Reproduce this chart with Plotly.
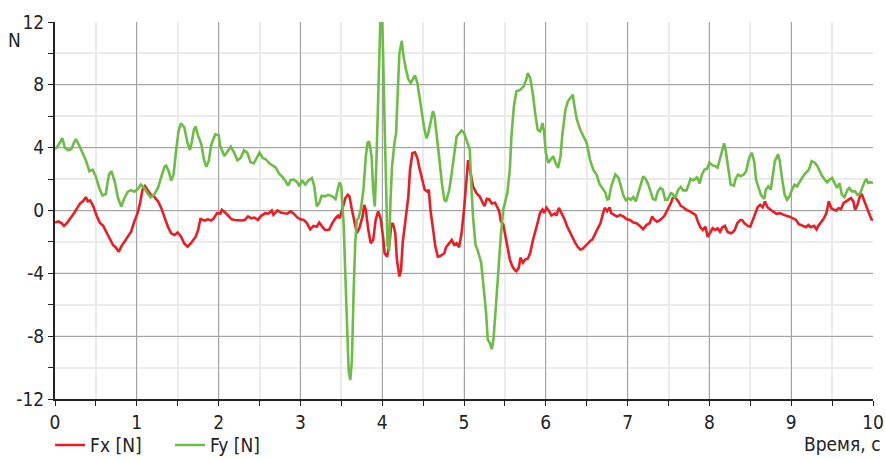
import plotly.graph_objects as go

# ---- data ----
t_fx = [0, 0.04, 0.08, 0.11, 0.15, 0.19, 0.23, 0.27, 0.31, 0.34, 0.38, 0.4, 0.43, 0.47, 0.51, 0.55, 0.59, 0.63, 0.67, 0.71,
        0.75, 0.78, 0.81, 0.85, 0.89, 0.93, 0.97, 1.01, 1.04, 1.07, 1.1, 1.13, 1.17, 1.21, 1.26, 1.3, 1.34, 1.38, 1.42, 1.46,
        1.5, 1.54, 1.58, 1.62, 1.66, 1.7, 1.72, 1.75, 1.78, 1.8, 1.83, 1.87, 1.91, 1.94, 1.98, 2.02, 2.04, 2.08, 2.12, 2.16,
        2.2, 2.24, 2.28, 2.32, 2.36, 2.4, 2.44, 2.48, 2.52, 2.57, 2.61, 2.65, 2.67, 2.72, 2.76, 2.8, 2.84, 2.88, 2.92, 2.96,
        3.0, 3.04, 3.08, 3.12, 3.16, 3.2, 3.23, 3.26, 3.3, 3.35, 3.39, 3.43, 3.46, 3.48, 3.51, 3.55, 3.58, 3.6, 3.63, 3.66,
        3.69, 3.72, 3.76, 3.78, 3.8, 3.83, 3.86, 3.89, 3.92, 3.95, 3.98, 4.01, 4.03, 4.06, 4.09, 4.11, 4.13, 4.16, 4.18, 4.21,
        4.23, 4.25, 4.29, 4.32, 4.34, 4.37, 4.4, 4.43, 4.46, 4.49, 4.52, 4.55, 4.57, 4.59, 4.62, 4.65, 4.68, 4.71, 4.76, 4.78,
        4.82, 4.85, 4.88, 4.91, 4.94, 4.97, 5.0, 5.03, 5.05, 5.08, 5.11, 5.15, 5.19, 5.23, 5.25, 5.28, 5.31, 5.34, 5.38, 5.43,
        5.45, 5.48, 5.51, 5.53, 5.56, 5.59, 5.62, 5.64, 5.67, 5.69, 5.72, 5.75, 5.78, 5.81, 5.84, 5.87, 5.9, 5.93, 5.96, 5.98,
        6.01, 6.04, 6.07, 6.11, 6.13, 6.16, 6.2, 6.23, 6.26, 6.3, 6.33, 6.36, 6.39, 6.42, 6.45, 6.48, 6.51, 6.54, 6.57, 6.6,
        6.64, 6.67, 6.69, 6.72, 6.75, 6.78, 6.8, 6.83, 6.87, 6.91, 6.95, 6.99, 7.03, 7.07, 7.11, 7.15, 7.19, 7.23, 7.27, 7.3,
        7.33, 7.36, 7.4, 7.45, 7.49, 7.53, 7.55, 7.58, 7.62, 7.65, 7.68, 7.72, 7.76, 7.8, 7.83, 7.86, 7.89, 7.92, 7.95, 7.98,
        8.01, 8.04, 8.07, 8.1, 8.13, 8.16, 8.19, 8.22, 8.26, 8.28, 8.31, 8.34, 8.38, 8.4, 8.43, 8.47, 8.5, 8.53, 8.56, 8.59,
        8.62, 8.65, 8.68, 8.71, 8.75, 8.78, 8.82, 8.86, 8.9, 8.94, 8.98, 9.02, 9.06, 9.09, 9.12, 9.16, 9.18, 9.21, 9.24, 9.28,
        9.31, 9.33, 9.37, 9.4, 9.43, 9.46, 9.49, 9.52, 9.55, 9.58, 9.61, 9.64, 9.67, 9.7, 9.73, 9.76, 9.78, 9.81, 9.84, 9.86,
        9.89, 9.92, 9.95, 9.98, 10.0]
fx = [-0.77, -0.7, -0.8, -0.98, -0.77, -0.5, -0.2, 0.15, 0.47, 0.58, 0.85, 0.58, 0.64, 0.25, -0.35, -0.8, -0.98, -1.4, -1.85, -2.2,
      -2.4, -2.63, -2.3, -2.0, -1.7, -1.35, -0.7, -0.17, 0.47, 1.33, 1.55, 1.33, 1.0, 0.9, 0.58, 0.15, -0.5, -1.03, -1.45, -1.56,
      -1.4, -1.65, -2.1, -2.3, -2.1, -1.8, -1.67, -1.24, -0.5, -0.6, -0.64, -0.56, -0.64, -0.5, -0.17, -0.2, 0.04, -0.13, -0.38, -0.56,
      -0.6, -0.64, -0.64, -0.6, -0.38, -0.5, -0.45, -0.6, -0.34, -0.17, -0.2, 0.0, -0.28, 0.0, -0.13, -0.17, -0.2, -0.06, -0.2, -0.43,
      -0.56, -0.6, -0.8, -1.2, -0.98, -1.03, -0.77, -0.98, -1.24, -1.23, -0.8, -0.49, -0.34, -0.49, 0.04, 0.79, 1.0, 0.9, 0.04, -0.8,
      -1.45, -1.13, -0.38, 0.36, 0.04, -1.23, -2.08, -1.87, -0.6, -0.06, -0.49, -1.66, -2.72, -2.94, -2.08, -0.91, -0.8, -1.45, -3.15, -4.2,
      -3.8, -2.08, -0.38, 0.9, 2.6, 3.66, 3.7, 3.34, 2.6, 1.96, 1.32, 1.21, 1.32, 0.04, -1.23, -2.3, -2.94, -2.9, -2.72, -2.34,
      -2.08, -1.87, -2.19, -2.08, -2.34, -1.45, 0.04, 2.17, 3.2, 2.4, 1.55, 1.12, 0.91, 0.49, 0.28, 0.74, 0.7, 0.44, 0.49, -0.04,
      -0.68, -0.89, -1.63, -2.27, -3.11, -3.54, -3.79, -3.86, -3.64, -3.0, -3.33, -3.11, -3.07, -2.69, -1.95, -1.42, -0.78, -0.15, 0.06, -0.15,
      0.17, -0.04, -0.32, -0.19, -0.32, 0.17, -0.25, -0.57, -1.0, -1.42, -1.84, -2.06, -2.31, -2.48, -2.44, -2.27, -2.16, -1.95, -1.84, -1.53,
      -1.1, -0.78, -0.36, 0.17, -0.04, 0.2, -0.17, -0.28, -0.39, -0.28, -0.39, -0.56, -0.6, -0.77, -0.81, -0.98, -1.2, -0.92, -0.81, -0.39,
      -0.6, -0.71, -0.6, -0.34, 0.04, 0.47, 0.79, 0.86, 0.58, 0.3, 0.21, 0.04, -0.06, -0.17, -0.28, -0.71, -1.07, -1.24, -1.03, -1.67,
      -1.35, -1.13, -1.24, -1.13, -1.35, -1.07, -0.98, -1.35, -1.45, -1.41, -1.24, -0.81, -0.6, -0.6, -0.81, -0.98, -1.03, -0.6, -0.13, 0.21,
      0.36, 0.21, 0.58, 0.21, 0.04, -0.06, -0.21, -0.17, -0.28, -0.34, -0.39, -0.49, -0.6, -0.86, -0.92, -0.98, -1.07, -0.92, -1.07, -0.98,
      -1.2, -0.98, -0.71, -0.49, -0.17, 0.58, 0.15, 0.04, 0.0, 0.15, 0.09, 0.47, 0.58, 0.68, 0.79, 0.58, 0.04, 0.36, 0.9, 1.07,
      0.68, 0.26, -0.13, -0.56, -0.6]

t_fy = [0, 0.04, 0.09, 0.12, 0.16, 0.2, 0.23, 0.255, 0.3, 0.34, 0.38, 0.42, 0.46, 0.5, 0.54, 0.58, 0.62, 0.66, 0.69, 0.73,
        0.77, 0.81, 0.85, 0.89, 0.93, 0.97, 1.01, 1.05, 1.09, 1.13, 1.17, 1.21, 1.26, 1.3, 1.34, 1.36, 1.39, 1.42, 1.45, 1.48,
        1.51, 1.54, 1.58, 1.62, 1.65, 1.67, 1.7, 1.72, 1.75, 1.79, 1.82, 1.85, 1.88, 1.91, 1.96, 2.0, 2.02, 2.07, 2.11, 2.15,
        2.19, 2.23, 2.27, 2.31, 2.35, 2.39, 2.43, 2.47, 2.5, 2.54, 2.58, 2.62, 2.66, 2.7, 2.74, 2.78, 2.82, 2.85, 2.88, 2.92,
        2.96, 2.99, 3.02, 3.06, 3.1, 3.14, 3.17, 3.2, 3.23, 3.26, 3.3, 3.34, 3.39, 3.43, 3.46, 3.48, 3.5, 3.53, 3.55, 3.57,
        3.59, 3.61, 3.63, 3.65, 3.67, 3.69, 3.71, 3.74, 3.77, 3.8, 3.82, 3.84, 3.87, 3.89, 3.91, 3.93, 3.95, 3.97, 3.98, 4.0,
        4.01, 4.03, 4.05, 4.065, 4.075, 4.085, 4.1, 4.12, 4.15, 4.17, 4.19, 4.21, 4.24, 4.26, 4.29, 4.32, 4.35, 4.37, 4.4, 4.43,
        4.47, 4.51, 4.54, 4.56, 4.59, 4.62, 4.64, 4.67, 4.7, 4.73, 4.76, 4.78, 4.82, 4.85, 4.88, 4.91, 4.94, 4.97, 5.0, 5.03,
        5.05, 5.07, 5.09, 5.11, 5.14, 5.17, 5.21, 5.24, 5.27, 5.29, 5.32, 5.34, 5.36, 5.39, 5.42, 5.45, 5.48, 5.51, 5.53, 5.56,
        5.58, 5.61, 5.64, 5.69, 5.73, 5.76, 5.78, 5.81, 5.84, 5.87, 5.9, 5.93, 5.96, 5.98, 6.0, 6.03, 6.06, 6.09, 6.12, 6.15,
        6.18, 6.2, 6.24, 6.27, 6.3, 6.33, 6.35, 6.38, 6.42, 6.46, 6.5, 6.54, 6.58, 6.62, 6.66, 6.69, 6.73, 6.75, 6.77, 6.8,
        6.83, 6.85, 6.89, 6.92, 6.95, 6.98, 7.01, 7.04, 7.07, 7.1, 7.13, 7.16, 7.19, 7.22, 7.25, 7.28, 7.31, 7.34, 7.37, 7.4,
        7.43, 7.46, 7.49, 7.53, 7.55, 7.58, 7.62, 7.65, 7.68, 7.72, 7.74, 7.77, 7.8, 7.83, 7.85, 7.88, 7.91, 7.94, 7.97, 8.0,
        8.04, 8.07, 8.1, 8.13, 8.16, 8.18, 8.2, 8.23, 8.26, 8.3, 8.32, 8.35, 8.38, 8.42, 8.45, 8.47, 8.49, 8.52, 8.55, 8.57,
        8.6, 8.63, 8.67, 8.69, 8.72, 8.75, 8.78, 8.8, 8.84, 8.86, 8.89, 8.92, 8.95, 8.98, 9.01, 9.04, 9.07, 9.1, 9.13, 9.16,
        9.2, 9.22, 9.25, 9.29, 9.32, 9.35, 9.38, 9.41, 9.44, 9.47, 9.5, 9.53, 9.56, 9.59, 9.62, 9.65, 9.69, 9.71, 9.74, 9.78,
        9.81, 9.84, 9.87, 9.9, 9.92, 9.94, 9.97, 10.0]
fy = [3.9, 4.15, 4.6, 4.0, 3.85, 3.9, 4.3, 4.55, 4.1, 3.6, 3.15, 2.5, 2.6, 2.15, 1.45, 0.95, 1.05, 2.3, 2.5, 1.85,
      0.8, 0.25, 0.8, 1.2, 1.3, 1.2, 1.35, 1.65, 1.45, 1.1, 0.85, 1.0, 1.45, 2.15, 2.8, 2.85, 2.5, 1.9, 2.3, 3.8,
      5.05, 5.55, 5.3, 4.3, 3.85, 4.3, 5.18, 5.35, 4.75, 4.2, 3.25, 2.78, 3.15, 4.2, 4.85, 4.8, 4.1, 3.47, 3.8, 4.06,
      3.68, 3.2, 3.35, 3.83, 3.68, 3.08, 3.0, 3.35, 3.68, 3.35, 3.25, 3.0, 2.87, 2.72, 2.35, 2.14, 1.86, 1.58, 1.93, 1.97,
      1.8, 1.54, 1.93, 1.65, 1.93, 2.07, 1.54, 0.26, 0.47, 0.94, 0.9, 1.0, 0.9, 0.72, 1.43, 1.79, 1.53, -1.02, -4.2, -7.4,
      -10.2, -10.8, -9.5, -5.3, -2.1, -0.6, -0.5, 0.15, 1.3, 3.45, 4.3, 4.4, 3.45, 1.3, 0.25, 3.2, 7.5, 11.5, 12.6, 12.5,
      9.6, 5.36, 1.1, -2.3, -1.3, -2.6, 0.47, 2.8, 4.3, 4.94, 7.5, 10.0, 10.8, 9.83, 9.0, 8.34, 8.13, 8.34, 8.6, 8.13,
      6.64, 5.36, 4.6, 4.83, 5.57, 6.32, 6.0, 4.72, 3.23, 1.74, 0.68, 0.57, 1.32, 2.38, 3.66, 4.72, 4.89, 5.1, 4.94, 4.51,
      4.3, 3.9, 1.55, -0.36, -2.16, -2.58, -3.33, -4.8, -6.5, -8.2, -8.5, -8.83, -8.2, -6.08, -3.75, -1.63, 0.06, 0.8, 1.12, 2.6,
      4.72, 6.63, 7.58, 7.69, 7.9, 8.33, 8.75, 8.43, 7.48, 6.2, 5.15, 5.04, 5.57, 4.94, 3.67, 3.03, 3.24, 3.45, 3.03, 2.71,
      3.45, 4.72, 6.42, 6.95, 7.16, 7.37, 6.63, 5.78, 5.15, 4.72, 4.3, 3.24, 2.6, 2.29, 1.65, 1.44, 1.12, 0.7, 0.73, 1.54,
      2.01, 2.29, 2.07, 1.54, 0.94, 0.64, 0.79, 0.68, 0.86, 0.58, 1.07, 1.65, 2.18, 2.01, 1.71, 1.22, 0.73, 0.68, 1.22, 1.43,
      1.33, 0.68, 0.68, 1.11, 1.07, 0.79, 1.33, 1.5, 1.28, 1.28, 1.54, 2.01, 1.93, 2.01, 2.14, 1.71, 2.29, 2.61, 2.65, 3.04,
      2.87, 2.82, 2.72, 3.36, 4.0, 4.28, 3.79, 2.72, 1.65, 1.58, 2.01, 2.29, 2.18, 2.29, 2.5, 3.0, 3.4, 3.68, 3.04, 1.97,
      1.54, 1.0, 0.73, 1.33, 1.54, 1.33, 2.4, 3.14, 3.57, 3.14, 1.97, 1.0, 0.68, 0.9, 1.33, 1.65, 1.54, 1.8, 2.07, 2.29,
      2.5, 2.65, 3.14, 3.04, 2.82, 2.5, 2.18, 1.97, 1.8, 1.97, 2.07, 1.75, 1.43, 1.75, 1.0, 0.86, 1.33, 1.43, 1.22, 1.22,
      1.0, 1.07, 1.54, 1.86, 2.01, 1.75, 1.8, 1.75]

series_names = ["Fx [N]", "Fy [N]"]
x_title = "Время, с"
y_title = "N"
x_ticks = [0, 1, 2, 3, 4, 5, 6, 7, 8, 9, 10]
x_ticklabels = ["0", "1", "2", "3", "4", "5", "6", "7", "8", "9", "10"]
y_ticks = [-12, -8, -4, 0, 4, 8, 12]
y_ticklabels = ["-12", "-8", "-4", "0", "4", "8", "12"]

FONT = "DejaVu Sans Condensed, Liberation Sans Narrow, sans-serif"
FS = 19
RED = "#ec1c24"
GREEN = "#6cbd45"
MAJOR = "#a3a3a3"
MINOR = "#ebebeb"
AXIS = "#222222"
TXT = "#222222"

fig = go.Figure()
fig.add_trace(go.Scatter(x=t_fx, y=fx, mode="lines", name=series_names[0],
                         line=dict(color=RED, width=2.6)))
fig.add_trace(go.Scatter(x=t_fy, y=fy, mode="lines", name=series_names[1],
                         line=dict(color=GREEN, width=2.6)))

fig.update_layout(
    width=885, height=459,
    margin=dict(l=55, r=12, t=22, b=60, autoexpand=False),
    paper_bgcolor="white", plot_bgcolor="white",
    font=dict(family=FONT, size=FS, color=TXT),
    showlegend=True,
    legend=dict(orientation="h", x=-0.006, xanchor="left", y=-0.072, yanchor="top",
                font=dict(family=FONT, size=FS, color=TXT),
                itemwidth=30, entrywidth=75, bgcolor="rgba(0,0,0,0)"),
    xaxis=dict(range=[0, 10], tickvals=x_ticks, ticktext=x_ticklabels, automargin=False,
               showgrid=True, gridcolor=MAJOR, gridwidth=1.2,
               zeroline=False, showline=True, linecolor=AXIS, linewidth=2,
               ticks="outside", ticklen=5, tickcolor=AXIS, tickwidth=1,
               tickfont=dict(family=FONT, size=FS, color=TXT),
               minor=dict(dtick=0.5, showgrid=True, gridcolor=MINOR, gridwidth=1.6,
                          ticks="outside", ticklen=5, tickcolor=AXIS, tickwidth=1)),
    yaxis=dict(range=[-12, 12], tickvals=y_ticks, ticktext=y_ticklabels, automargin=False,
               showgrid=True, gridcolor=MAJOR, gridwidth=1.2,
               zeroline=False, showline=True, linecolor=AXIS, linewidth=2,
               ticks="outside", ticklen=5, tickcolor=AXIS, tickwidth=1,
               tickfont=dict(family=FONT, size=FS, color=TXT),
               minor=dict(dtick=2, showgrid=True, gridcolor=MINOR, gridwidth=1.6,
                          ticks="outside", ticklen=5, tickcolor=AXIS, tickwidth=1)),
    annotations=[
        dict(text=y_title, xref="paper", yref="paper", x=-0.049, y=0.952,
             xanchor="center", yanchor="middle", showarrow=False,
             font=dict(family=FONT, size=FS, color=TXT)),
        dict(text=x_title, xref="paper", yref="paper", x=1.0122, y=-0.119,
             xanchor="right", yanchor="middle", showarrow=False,
             font=dict(family=FONT, size=FS, color=TXT)),
    ],
)

fig.write_html("out.html", config={"displayModeBar": False},
               post_script="document.body.style.margin='0px';")
